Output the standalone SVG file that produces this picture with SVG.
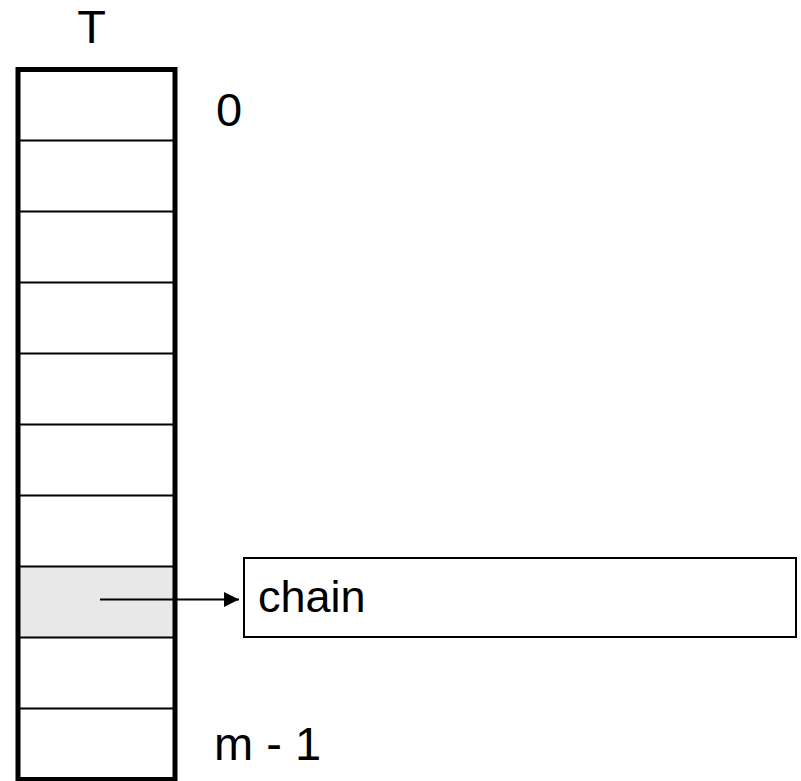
<svg xmlns="http://www.w3.org/2000/svg" width="801" height="781" viewBox="0 0 801 781">
<style>
.lbl{font-family:"Liberation Sans",Arial,sans-serif;font-size:47px;fill:#000}
.div{stroke:#000;stroke-width:2;fill:none}
</style>
<defs>
<marker id="ah" markerWidth="8" markerHeight="8" refX="7.5" refY="4" orient="auto" markerUnits="userSpaceOnUse" viewBox="0 0 8 8">
<path d="M0,0 L8,4 L0,8 Z" fill="#000"/>
</marker>
<marker id="ah2" viewBox="0 0 15 15" refX="15" refY="7.5" markerWidth="15" markerHeight="15" orient="auto" markerUnits="userSpaceOnUse">
<path d="M0,0 L15,7.5 L0,15 Z" fill="#000"/>
</marker>
</defs>
<rect width="801" height="781" fill="#fff"/>
<g id="table">
<rect x="18" y="566.5" width="157" height="71" fill="#e8e8e8"/>
<g class="div">
<line x1="18" y1="140.5" x2="175" y2="140.5"/>
<line x1="18" y1="211.5" x2="175" y2="211.5"/>
<line x1="18" y1="282.5" x2="175" y2="282.5"/>
<line x1="18" y1="353.5" x2="175" y2="353.5"/>
<line x1="18" y1="424.5" x2="175" y2="424.5"/>
<line x1="18" y1="495.5" x2="175" y2="495.5"/>
<line x1="18" y1="566.5" x2="175" y2="566.5"/>
<line x1="18" y1="637.5" x2="175" y2="637.5"/>
<line x1="18" y1="708.5" x2="175" y2="708.5"/>
</g>
<rect x="18" y="69.5" width="157" height="710" fill="none" stroke="#000" stroke-width="5"/>
<text class="lbl" x="91.5" y="43" text-anchor="middle">T</text>
<text class="lbl" x="216" y="126">0</text>
<text class="lbl" x="214" y="760">m - 1</text>
</g>
<g id="chain">
<rect x="244" y="558" width="552" height="79" fill="#fff" stroke="#000" stroke-width="2"/>
<text class="lbl" x="258" y="612" style="font-size:45px">chain</text>
</g>
<g id="connectors">
<line x1="100" y1="599.5" x2="239" y2="599.5" stroke="#000" stroke-width="2" marker-end="url(#ah2)"/>
</g>
</svg>
